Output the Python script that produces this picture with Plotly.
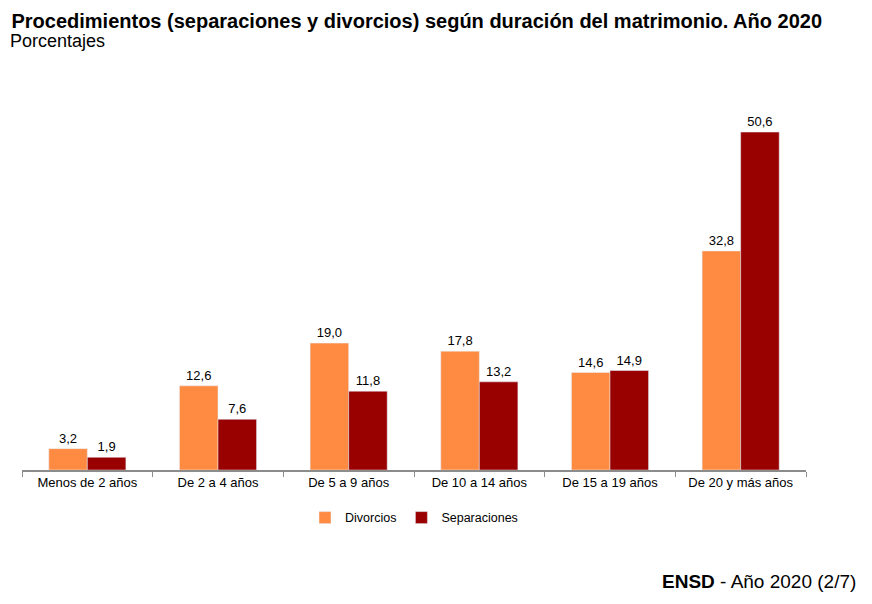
import plotly.graph_objects as go

categorias = [
    "Menos de 2 años",
    "De 2 a 4 años",
    "De 5 a 9 años",
    "De 10 a 14 años",
    "De 15 a 19 años",
    "De 20 y más años",
]
divorcios = [3.2, 12.6, 19.0, 17.8, 14.6, 32.8]
separaciones = [1.9, 7.6, 11.8, 13.2, 14.9, 50.6]


def etiquetas(vals):
    return [f"{v:.1f}".replace(".", ",") for v in vals]


fuente = "Liberation Sans, Arial, sans-serif"

fig = go.Figure()
fig.add_trace(go.Bar(
    x=categorias, y=divorcios, name="Divorcios",
    marker=dict(color="#FF8B42"),
    text=etiquetas(divorcios), textposition="outside",
    textfont=dict(size=13, color="#000000"), cliponaxis=False,
))
fig.add_trace(go.Bar(
    x=categorias, y=separaciones, name="Separaciones",
    marker=dict(color="#990000"),
    text=etiquetas(separaciones), textposition="outside",
    textfont=dict(size=13, color="#000000"), cliponaxis=False,
))

# the page body has an 8px margin, so the figure is shifted by that
fig.update_layout(
    width=864, height=596,
    barmode="group", bargap=0.41, bargroupgap=0,
    plot_bgcolor="white", paper_bgcolor="white",
    font=dict(family=fuente, color="#000000"),
    margin=dict(l=14, r=66, t=72, b=134),
    title=dict(
        text="<b>Procedimientos (separaciones y divorcios) según duración del matrimonio. Año 2020</b>",
        x=0.004, xanchor="left", xref="container",
        y=0.978, yanchor="middle", yref="container",
        font=dict(size=20, family=fuente),
    ),
    legend=dict(
        orientation="h", x=0.5, xanchor="center", y=-0.123, yanchor="middle",
        font=dict(size=12.5), itemwidth=30, tracegroupgap=0,
    ),
    annotations=[
        dict(text="Porcentajes", xref="paper", yref="paper",
             x=-0.0179, y=1.10, xanchor="left", yanchor="middle",
             showarrow=False, font=dict(size=18)),
        dict(text="<b>ENSD</b> - Año 2020 (2/7)", xref="paper", yref="paper",
             x=1.066, y=-0.285, xanchor="right", yanchor="middle",
             showarrow=False, font=dict(size=19)),
    ],
)
fig.update_xaxes(
    showline=True, linecolor="#8c8c8c", linewidth=1.5,
    ticks="outside", tickson="boundaries", ticklen=5, tickcolor="#8c8c8c",
    tickfont=dict(size=13), showgrid=False,
)
fig.update_yaxes(visible=False, range=[0, 58.4])

fig.write_html("out.html")
